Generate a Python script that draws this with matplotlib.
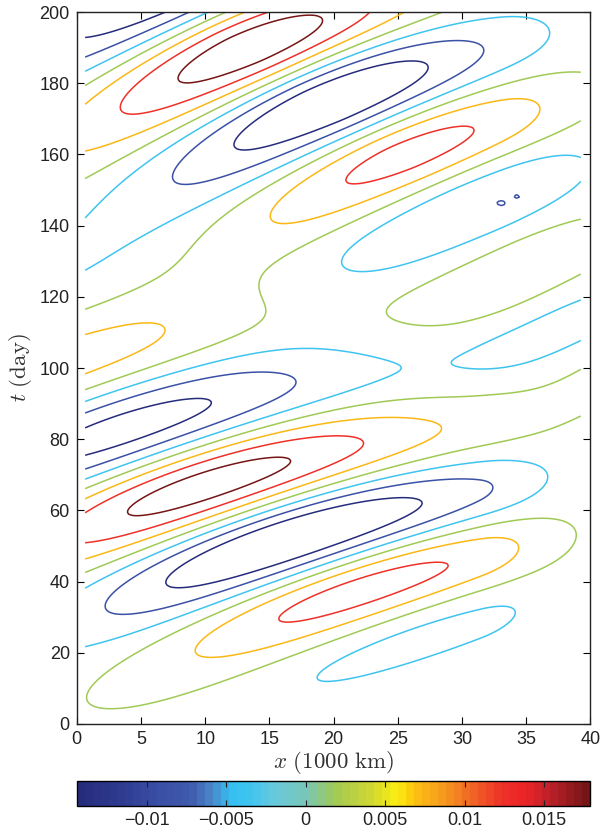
import numpy as np
import matplotlib
matplotlib.use("Agg")
import matplotlib.pyplot as plt
from matplotlib.colors import LinearSegmentedColormap, ListedColormap, Normalize
from matplotlib.cm import ScalarMappable

# ---------------- data ----------------
levels = [-0.0144, -0.0090, -0.0036, 0.0018, 0.0072, 0.0126, 0.0179]
cbar_ticks = [-0.01, -0.005, 0, 0.005, 0.01, 0.015]
cbar_ticklabels = ['\u22120.01', '\u22120.005', '0', '0.005', '0.01', '0.015']
x_ticks = [0, 5, 10, 15, 20, 25, 30, 35, 40]
t_ticks = [0, 20, 40, 60, 80, 100, 120, 140, 160, 180, 200]

# wave packets: lower, upper, right-edge patch
pk_amp = [0.0210, 0.0220, 0.0045]
# envelope
pk_xc = [13.4, 15.0, 40.0]
pk_tc = [59.4, 185.5, 113.0]
pk_axis_slope = [2.34, 2.5, 2.5]
pk_cross_slope = [1.33, 1.45, 1.45]
pk_Lu_minus = [18.6, 25.0, 6.0]
pk_Lu_plus = [13.5, 17.0, 12.0]
pk_u_exp_minus = [2.4, 2.0, 2.0]
pk_u_exp_plus = [3.0, 2.0, 2.0]
pk_Lv_minus = [16.0, 15.4, 9.0]
pk_Lv_plus = [16.0, 13.0, 9.0]
pk_v_exp_minus = [2.0, 1.6, 2.0]
pk_taper_x = [31.5, 33.0, 99.0]
pk_taper_L = [7.0, 10.0, 10.0]
# crest lines t = a0 + a1 (x - xr) + a2 (x - xr)^2, local period P0 + P1 (x - xr)
pk_xr = [10.8, 20.0, 20.0]
pk_a0 = [68.0, 200.0, 200.0]
pk_a1 = [1.22, 1.38, 1.38]
pk_a2 = [-0.0145, -0.020, -0.020]
pk_P0 = [48.0, 51.0, 51.0]
pk_P1 = [-0.35, -0.45, -0.45]

# two tiny closed contours near x=33-35, t=146-148
dot_x = [33.1, 34.3]
dot_t = [146.2, 148.1]
dot_amp = [-0.0016, -0.0016]

# colorbar colour anchors
cb_vals = [-0.0144, -0.012, -0.0095, -0.0075, -0.006, -0.0048, -0.0036, -0.002, 0.0,
           0.0018, 0.004, 0.0058, 0.0066, 0.0072, 0.0085, 0.0105, 0.0126, 0.0140,
           0.0155, 0.0179]
cb_cols = ['#262c7c', '#2d3a8e', '#3a4ea5', '#3f5aab', '#4a86c9', '#33bff1',
           '#3fc4f0', '#68c9dc', '#7ac6b6', '#a0ca55', '#cdd636', '#fbee12',
           '#fcd00c', '#fbb915', '#f7a01c', '#f06a24', '#ee3028', '#ec2426',
           '#c0202a', '#761516']

# ---------------- field ----------------
xg = np.arange(0.65, 39.36, 0.2)
tg = np.arange(0.0, 200.01, 0.5)
X, T = np.meshgrid(xg, tg)
F = np.zeros_like(X)
for i in range(len(pk_amp)):
    g, h = pk_axis_slope[i], pk_cross_slope[i]
    dx = X - pk_xc[i]
    dt = T - pk_tc[i]
    v = (dt + g * dx) / (h + g)
    u = dx - v
    Lu = np.where(u < 0, pk_Lu_minus[i], pk_Lu_plus[i])
    ue = np.where(u < 0, pk_u_exp_minus[i], pk_u_exp_plus[i])
    Lv = np.where(v < 0, pk_Lv_minus[i], pk_Lv_plus[i])
    ve = np.where(v < 0, pk_v_exp_minus[i], 2.0)
    env = np.exp(-np.abs(u / Lu) ** ue - np.abs(v / Lv) ** ve)
    env *= np.exp(-(np.clip(X - pk_taper_x[i], 0, None) / pk_taper_L[i]) ** 2)
    xr = X - pk_xr[i]
    crest = pk_a0[i] + pk_a1[i] * xr + pk_a2[i] * xr ** 2
    period = pk_P0[i] + pk_P1[i] * xr
    F += pk_amp[i] * env * np.cos(2 * np.pi * (T - crest) / period)
for i in range(len(dot_x)):
    F += dot_amp[i] * np.exp(-((X - dot_x[i]) / 0.25) ** 2 - ((T - dot_t[i]) / 0.6) ** 2)

# ---------------- colours ----------------
vmin, vmax = levels[0], levels[-1]
pos = [(v - vmin) / (vmax - vmin) for v in cb_vals]
base = LinearSegmentedColormap.from_list("ref", list(zip(pos, cb_cols)))
cmap = ListedColormap(base(np.linspace(0, 1, 64)))
norm = Normalize(vmin=vmin, vmax=vmax)

plt.rcParams['font.family'] = ['Liberation Sans', 'DejaVu Sans']
plt.rcParams['mathtext.fontset'] = 'cm'

fig = plt.figure(figsize=(6.02, 8.38), dpi=100)
W, H = 602.0, 838.0
ax = fig.add_axes([76.8 / W, 1 - 724 / H, (590.4 - 76.8) / W, (724 - 12) / H])
ax.contour(X, T, F, levels=levels, colors=[base((l - vmin) / (vmax - vmin)) for l in levels],
           linewidths=1.1)
ax.set_xlim(0, 40)
ax.set_ylim(0, 200)
ax.set_xticks(x_ticks)
ax.set_yticks(t_ticks)
ax.tick_params(direction='in', top=True, right=True, length=5, width=0.8,
               labelsize=13, pad=5, labelcolor='#222222')
for sp in ax.spines.values():
    sp.set_linewidth(1.0)
    sp.set_color('#222222')
ax.set_xlabel(r'$x\ \mathrm{(1000\ km)}$', fontsize=16.5, labelpad=1, color='#333333')
ax.set_ylabel(r'$t\ \mathrm{(day)}$', fontsize=16.5, labelpad=4, color='#333333')

cax = fig.add_axes([76.8 / W, 1 - 806 / H, (590.4 - 76.8) / W, 25 / H])
cb = fig.colorbar(ScalarMappable(norm=norm, cmap=cmap), cax=cax, orientation='horizontal')
cb.set_ticks(cbar_ticks)
cb.set_ticklabels(cbar_ticklabels)
cax.tick_params(direction='in', top=True, bottom=True, length=4, width=0.8,
                labelsize=13, pad=4, color='#222222', labelcolor='#222222')
cb.outline.set_linewidth(1.0)

fig.savefig("out.png", dpi=100)
